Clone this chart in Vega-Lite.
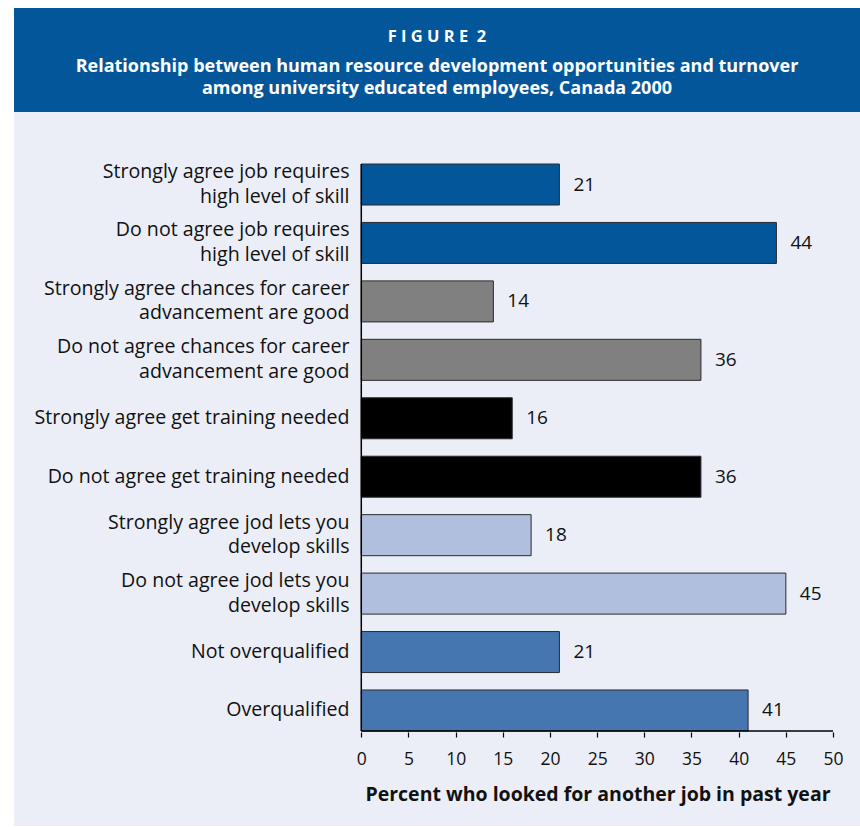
{
  "$schema": "https://vega.github.io/schema/vega-lite/v6.json",
  "background": "white",
  "padding": {"left": 14, "top": 8, "right": 0, "bottom": 0},
  "spacing": 0,
  "config": {"view": {"stroke": null}, "font": "Open Sans"},
  "datasets": {
    "bars": [
      {"label": "Strongly agree job requires|high level of skill", "value": 21, "group": "skill"},
      {"label": "Do not agree job requires|high level of skill", "value": 44, "group": "skill"},
      {"label": "Strongly agree chances for career|advancement are good", "value": 14, "group": "career"},
      {"label": "Do not agree chances for career|advancement are good", "value": 36, "group": "career"},
      {"label": "Strongly agree get training needed", "value": 16, "group": "training"},
      {"label": "Do not agree get training needed", "value": 36, "group": "training"},
      {"label": "Strongly agree jod lets you|develop skills", "value": 18, "group": "develop"},
      {"label": "Do not agree jod lets you|develop skills", "value": 45, "group": "develop"},
      {"label": "Not overqualified", "value": 21, "group": "qualified"},
      {"label": "Overqualified", "value": 41, "group": "qualified"}
    ],
    "axisline": [
      {"x0": 0, "x1": 50, "top": "Strongly agree job requires|high level of skill", "bottom": "Overqualified"}
    ]
  },
  "vconcat": [
    {
      "width": 846,
      "height": 104,
      "view": {"fill": "#03569a", "stroke": null},
      "title": {
        "text": "F I G U R E \u00a02",
        "subtitle": ["Relationship between human resource development opportunities and turnover", "among university educated employees, Canada 2000"],
        "anchor": "middle",
        "frame": "group",
        "offset": -90,
        "color": "white",
        "font": "Open Sans",
        "fontSize": 16.5,
        "fontWeight": "bold",
        "subtitleColor": "white",
        "subtitleFont": "Open Sans",
        "subtitleFontSize": 18,
        "subtitleFontWeight": "bold",
        "subtitlePadding": 12,
        "subtitleLineHeight": 22.5
      },
      "data": {"values": []},
      "mark": "text",
      "encoding": {}
    },
    {
      "width": 846,
      "height": 714,
      "view": {"fill": "#ebeef6", "stroke": null},
      "layer": [
        {
          "data": {"name": "bars"},
          "mark": {"type": "bar", "stroke": "#2b2b2b", "strokeWidth": 1},
          "encoding": {
            "y": {
              "field": "label",
              "type": "nominal",
              "sort": null,
              "scale": {
                "domain": [
                  "Strongly agree job requires|high level of skill",
                  "Do not agree job requires|high level of skill",
                  "Strongly agree chances for career|advancement are good",
                  "Do not agree chances for career|advancement are good",
                  "Strongly agree get training needed",
                  "Do not agree get training needed",
                  "Strongly agree jod lets you|develop skills",
                  "Do not agree jod lets you|develop skills",
                  "Not overqualified",
                  "Overqualified"
                ],
                "range": [52, 619],
                "paddingInner": 0.298,
                "paddingOuter": 0,
                "round": false
              },
              "axis": null
            },
            "x": {
              "field": "value",
              "type": "quantitative",
              "scale": {"domain": [-36.81, 52.86], "nice": false, "zero": false},
              "axis": {
                "values": [0, 5, 10, 15, 20, 25, 30, 35, 40, 45, 50],
                "domain": false,
                "grid": false,
                "offset": -94,
                "tickSize": 5,
                "tickColor": "black",
                "tickWidth": 1.2,
                "labelFontSize": 17.5,
                "labelColor": "#111111",
                "labelPadding": 13,
                "labelFlush": false,
                "title": "Percent who looked for another job in past year",
                "titleFontSize": 19.5,
                "titleFontWeight": "bold",
                "titleColor": "#111111",
                "titleX": 583.5,
                "titleAlign": "center",
                "titlePadding": 18
              }
            },
            "x2": {"datum": 0},
            "color": {
              "field": "group",
              "type": "nominal",
              "scale": {
                "domain": ["skill", "career", "training", "develop", "qualified"],
                "range": ["#03569a", "#808080", "#000000", "#b0bfdd", "#4676b0"]
              },
              "legend": null
            }
          }
        },
        {
          "data": {"name": "bars"},
          "mark": {"type": "text", "align": "left", "baseline": "middle", "dx": 14, "fontSize": 19, "color": "#111111"},
          "encoding": {
            "y": {"field": "label", "type": "nominal"},
            "x": {"field": "value", "type": "quantitative"},
            "text": {"field": "value", "type": "quantitative"}
          }
        },
        {
          "data": {"name": "bars"},
          "transform": [{"filter": "indexof(datum.label, '|') < 0"}],
          "mark": {"type": "text", "align": "right", "baseline": "middle", "fontSize": 19.6, "color": "#111111"},
          "encoding": {
            "y": {"field": "label", "type": "nominal"},
            "x": {"datum": -1.25},
            "text": {"field": "label", "type": "nominal"}
          }
        },
        {
          "data": {"name": "bars"},
          "transform": [{"filter": "indexof(datum.label, '|') >= 0"}],
          "mark": {"type": "text", "align": "right", "baseline": "middle", "dy": -12.5, "fontSize": 19.6, "lineBreak": "|", "lineHeight": 24.5, "color": "#111111"},
          "encoding": {
            "y": {"field": "label", "type": "nominal"},
            "x": {"datum": -1.25},
            "text": {"field": "label", "type": "nominal"}
          }
        },
        {
          "data": {"name": "axisline"},
          "mark": {"type": "rule", "color": "black", "strokeWidth": 1.5},
          "encoding": {
            "x": {"field": "x0", "type": "quantitative"},
            "y": {"field": "top", "type": "nominal", "bandPosition": 0},
            "y2": {"field": "bottom", "bandPosition": 1}
          }
        },
        {
          "data": {"name": "axisline"},
          "mark": {"type": "rule", "color": "black", "strokeWidth": 1.5},
          "encoding": {
            "x": {"field": "x0", "type": "quantitative"},
            "x2": {"field": "x1"},
            "y": {"field": "bottom", "type": "nominal", "bandPosition": 1}
          }
        }
      ]
    }
  ]
}
